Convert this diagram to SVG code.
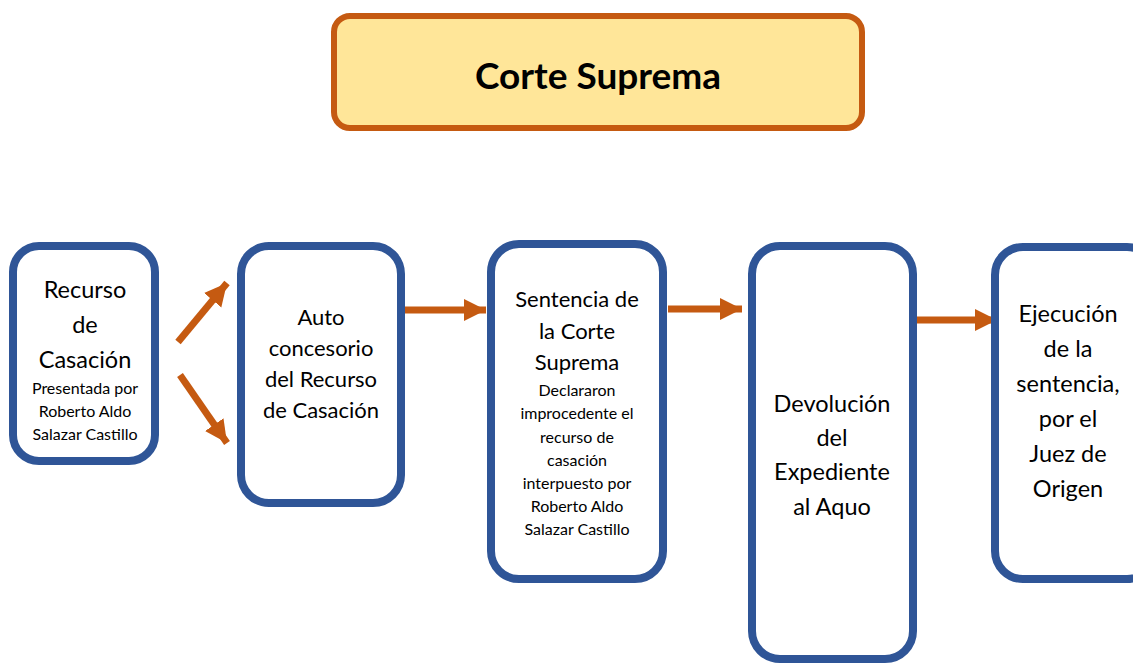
<svg xmlns="http://www.w3.org/2000/svg" width="1133" height="665" viewBox="0 0 1133 665">
<style>
.node{fill:#FFFFFF;stroke:#2F5597;stroke-width:8}
.title{fill:#FFE699;stroke:#C55A11;stroke-width:6}
text{font-family:Lato,"Open Sans","Liberation Sans",sans-serif;fill:#000;text-anchor:middle}
.big{font-size:23.5px}
.mid{font-size:22px}
.small{font-size:16px}
.tt{font-size:37px;font-weight:bold}
.conn{stroke:#C55A11;stroke-width:7;fill:none}
</style>
<defs>
<marker id="ah" viewBox="0 0 10 10" refX="10" refY="5" markerWidth="3.2" markerHeight="3.4" orient="auto" markerUnits="strokeWidth">
<path d="M0,0 L10,5 L0,10 Z" fill="#C55A11"/>
</marker>
</defs>
<rect width="1133" height="665" fill="#FFFFFF"/>
<g id="title">
<rect class="title" x="334" y="16" width="528" height="112" rx="16"/>
<text class="tt" x="598" y="89">Corte Suprema</text>
</g>
<g id="connectors">
<line class="conn" x1="178" y1="342" x2="227" y2="283" marker-end="url(#ah)"/>
<line class="conn" x1="180" y1="375" x2="227" y2="443" marker-end="url(#ah)"/>
<line class="conn" x1="403" y1="310" x2="486" y2="310" marker-end="url(#ah)"/>
<line class="conn" x1="668" y1="309" x2="742" y2="309" marker-end="url(#ah)"/>
<line class="conn" x1="913" y1="320" x2="997" y2="320" marker-end="url(#ah)"/>
</g>
<g id="n1">
<rect class="node" x="13" y="246" width="142" height="215" rx="26"/>
<text class="big" x="85" y="298">Recurso</text>
<text class="big" x="85" y="333">de</text>
<text class="big" x="85" y="368">Casación</text>
<text class="small" x="85" y="394">Presentada por</text>
<text class="small" x="85" y="417">Roberto Aldo</text>
<text class="small" x="85" y="440">Salazar Castillo</text>
</g>
<g id="n2">
<rect class="node" x="241" y="246" width="160" height="257" rx="28"/>
<text class="mid" x="321" y="325">Auto</text>
<text class="mid" x="321" y="356">concesorio</text>
<text class="mid" x="321" y="387">del Recurso</text>
<text class="mid" x="321" y="418">de Casación</text>
</g>
<g id="n3">
<rect class="node" x="491" y="244" width="172" height="335" rx="28"/>
<text class="mid" x="577" y="307">Sentencia de</text>
<text class="mid" x="577" y="339">la Corte</text>
<text class="mid" x="577" y="370">Suprema</text>
<text class="small" x="577" y="396">Declararon</text>
<text class="small" x="577" y="419">improcedente el</text>
<text class="small" x="577" y="443">recurso de</text>
<text class="small" x="577" y="466">casación</text>
<text class="small" x="577" y="489">interpuesto por</text>
<text class="small" x="577" y="512">Roberto Aldo</text>
<text class="small" x="577" y="535">Salazar Castillo</text>
</g>
<g id="n4">
<rect class="node" x="752" y="246" width="161" height="413" rx="28"/>
<text class="big" x="832" y="412">Devolución</text>
<text class="big" x="832" y="446">del</text>
<text class="big" x="832" y="480">Expediente</text>
<text class="big" x="832" y="515">al Aquo</text>
</g>
<g id="n5">
<rect class="node" x="995" y="247" width="160" height="332" rx="28"/>
<text class="big" x="1068" y="322">Ejecución</text>
<text class="big" x="1068" y="357">de la</text>
<text class="big" x="1068" y="392">sentencia,</text>
<text class="big" x="1068" y="427">por el</text>
<text class="big" x="1068" y="462">Juez de</text>
<text class="big" x="1068" y="497">Origen</text>
</g>
</svg>
